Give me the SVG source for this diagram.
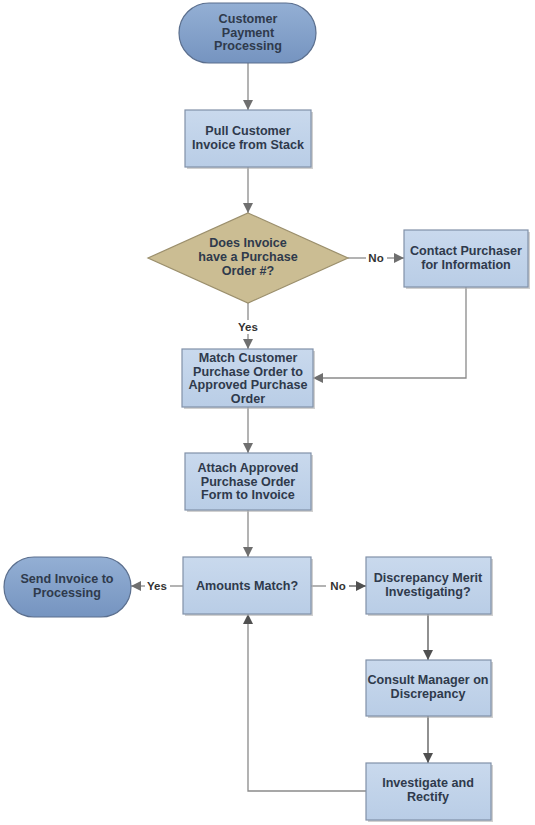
<svg xmlns="http://www.w3.org/2000/svg" width="535" height="825" viewBox="0 0 535 825">
<defs>
<linearGradient id="tg" x1="0" y1="0" x2="0" y2="1"><stop offset="0" stop-color="#93afd4"/><stop offset="1" stop-color="#7594c0"/></linearGradient>
<linearGradient id="bg" x1="0" y1="0" x2="0" y2="1"><stop offset="0" stop-color="#c9d9ed"/><stop offset="1" stop-color="#b9cde6"/></linearGradient>
<marker id="ah" viewBox="0 0 10 10" refX="10" refY="5" markerWidth="10" markerHeight="10" markerUnits="userSpaceOnUse" orient="auto"><path d="M0,0 L10,5 L0,10 z" fill="#6f6f6f"/></marker>
<marker id="ahd" viewBox="0 0 10 10" refX="10" refY="5" markerWidth="10" markerHeight="10" markerUnits="userSpaceOnUse" orient="auto"><path d="M0,0 L10,5 L0,10 z" fill="#505050"/></marker>
</defs>
<style>
.term{fill:url(#tg);stroke:#5b6f8e;stroke-width:1.2}
.box{fill:url(#bg);stroke:#8191a8;stroke-width:1.2}
.sh{fill:#b0b0b0;opacity:0.6}
.dia{fill:#cbbd93;stroke:#9b8f6c;stroke-width:1.2}
.t{font-family:"Liberation Sans",Arial,sans-serif;font-weight:bold;font-size:12.6px;fill:#2f3a4c;text-anchor:middle}
.c{fill:none;stroke:#8a8a8a;stroke-width:1.3;marker-end:url(#ah)}
.cd{fill:none;stroke:#555;stroke-width:1.3;marker-end:url(#ahd)}
.cn{fill:none;stroke:#8a8a8a;stroke-width:1.3}
.lab{font-family:"Liberation Sans",Arial,sans-serif;font-weight:bold;font-size:11.5px;fill:#333;text-anchor:middle}
</style>
<g id="connectors">
<line class="c" x1="248" y1="63" x2="248" y2="110"/>
<line class="c" x1="248" y1="167" x2="248" y2="213"/>
<line class="cn" x1="248" y1="303" x2="248" y2="320"/>
<line class="c" x1="248" y1="334" x2="248" y2="349"/>
<line class="cn" x1="348" y1="258" x2="366" y2="258"/>
<line class="c" x1="387" y1="258" x2="404" y2="258"/>
<polyline class="c" points="466,287 466,378 313,378"/>
<line class="c" x1="248" y1="407" x2="248" y2="453"/>
<line class="c" x1="248" y1="510" x2="248" y2="557"/>
<line class="cn" x1="183" y1="586" x2="170" y2="586"/>
<line class="c" x1="145" y1="586" x2="131" y2="586"/>
<line class="cn" x1="311" y1="586" x2="326" y2="586"/>
<line class="cd" x1="349" y1="586" x2="366" y2="586"/>
<line class="cd" x1="428" y1="614" x2="428" y2="660"/>
<line class="cd" x1="428" y1="716" x2="428" y2="763"/>
<polyline class="cd" style="stroke:#8a8a8a" points="366,791 248,791 248,614"/>
<text class="lab" x="248" y="331">Yes</text>
<text class="lab" x="376" y="262">No</text>
<text class="lab" x="157" y="590">Yes</text>
<text class="lab" x="338" y="590">No</text>
</g>
<g id="start">
<rect class="term" x="179" y="3" width="137" height="60" rx="30" ry="30"/>
<text class="t" x="248" y="23">Customer</text>
<text class="t" x="248" y="36.5">Payment</text>
<text class="t" x="248" y="50">Processing</text>
</g>
<g id="pull">
<rect class="sh" x="187" y="112" width="126" height="57"/>
<rect class="box" x="185" y="110" width="126" height="57"/>
<text class="t" x="248" y="135">Pull Customer</text>
<text class="t" x="248" y="149">Invoice from Stack</text>
</g>
<g id="decision">
<polygon class="dia" points="248,213 348,258 248,303 148,258"/>
<text class="t" x="248" y="247">Does Invoice</text>
<text class="t" x="248" y="261">have a Purchase</text>
<text class="t" x="248" y="275">Order #?</text>
</g>
<g id="contact">
<rect class="sh" x="406" y="232" width="124" height="57"/>
<rect class="box" x="404" y="230" width="124" height="57"/>
<text class="t" x="466" y="255">Contact Purchaser</text>
<text class="t" x="466" y="268.5">for Information</text>
</g>
<g id="match">
<rect class="sh" x="184" y="351" width="131" height="58"/>
<rect class="box" x="182" y="349" width="131" height="58"/>
<text class="t" x="248" y="362">Match Customer</text>
<text class="t" x="248" y="375.5">Purchase Order to</text>
<text class="t" x="248" y="389">Approved Purchase</text>
<text class="t" x="248" y="402.5">Order</text>
</g>
<g id="attach">
<rect class="sh" x="187" y="455" width="126" height="57"/>
<rect class="box" x="185" y="453" width="126" height="57"/>
<text class="t" x="248" y="472">Attach Approved</text>
<text class="t" x="248" y="485.5">Purchase Order</text>
<text class="t" x="248" y="499">Form to Invoice</text>
</g>
<g id="amounts">
<rect class="sh" x="185" y="559" width="128" height="57"/>
<rect class="box" x="183" y="557" width="128" height="57"/>
<text class="t" x="247" y="590">Amounts Match?</text>
</g>
<g id="send">
<rect class="term" x="4" y="557" width="127" height="60" rx="30" ry="30"/>
<text class="t" x="67" y="583">Send Invoice to</text>
<text class="t" x="67" y="596.5">Processing</text>
</g>
<g id="discrepancy">
<rect class="sh" x="368" y="559" width="125" height="57"/>
<rect class="box" x="366" y="557" width="125" height="57"/>
<text class="t" x="428" y="582">Discrepancy Merit</text>
<text class="t" x="428" y="595.5">Investigating?</text>
</g>
<g id="consult">
<rect class="sh" x="368" y="662" width="125" height="56"/>
<rect class="box" x="366" y="660" width="125" height="56"/>
<text class="t" x="428" y="684">Consult Manager on</text>
<text class="t" x="428" y="697.5">Discrepancy</text>
</g>
<g id="investigate">
<rect class="sh" x="368" y="765" width="125" height="57"/>
<rect class="box" x="366" y="763" width="125" height="57"/>
<text class="t" x="428" y="787">Investigate and</text>
<text class="t" x="428" y="800.5">Rectify</text>
</g>
</svg>
